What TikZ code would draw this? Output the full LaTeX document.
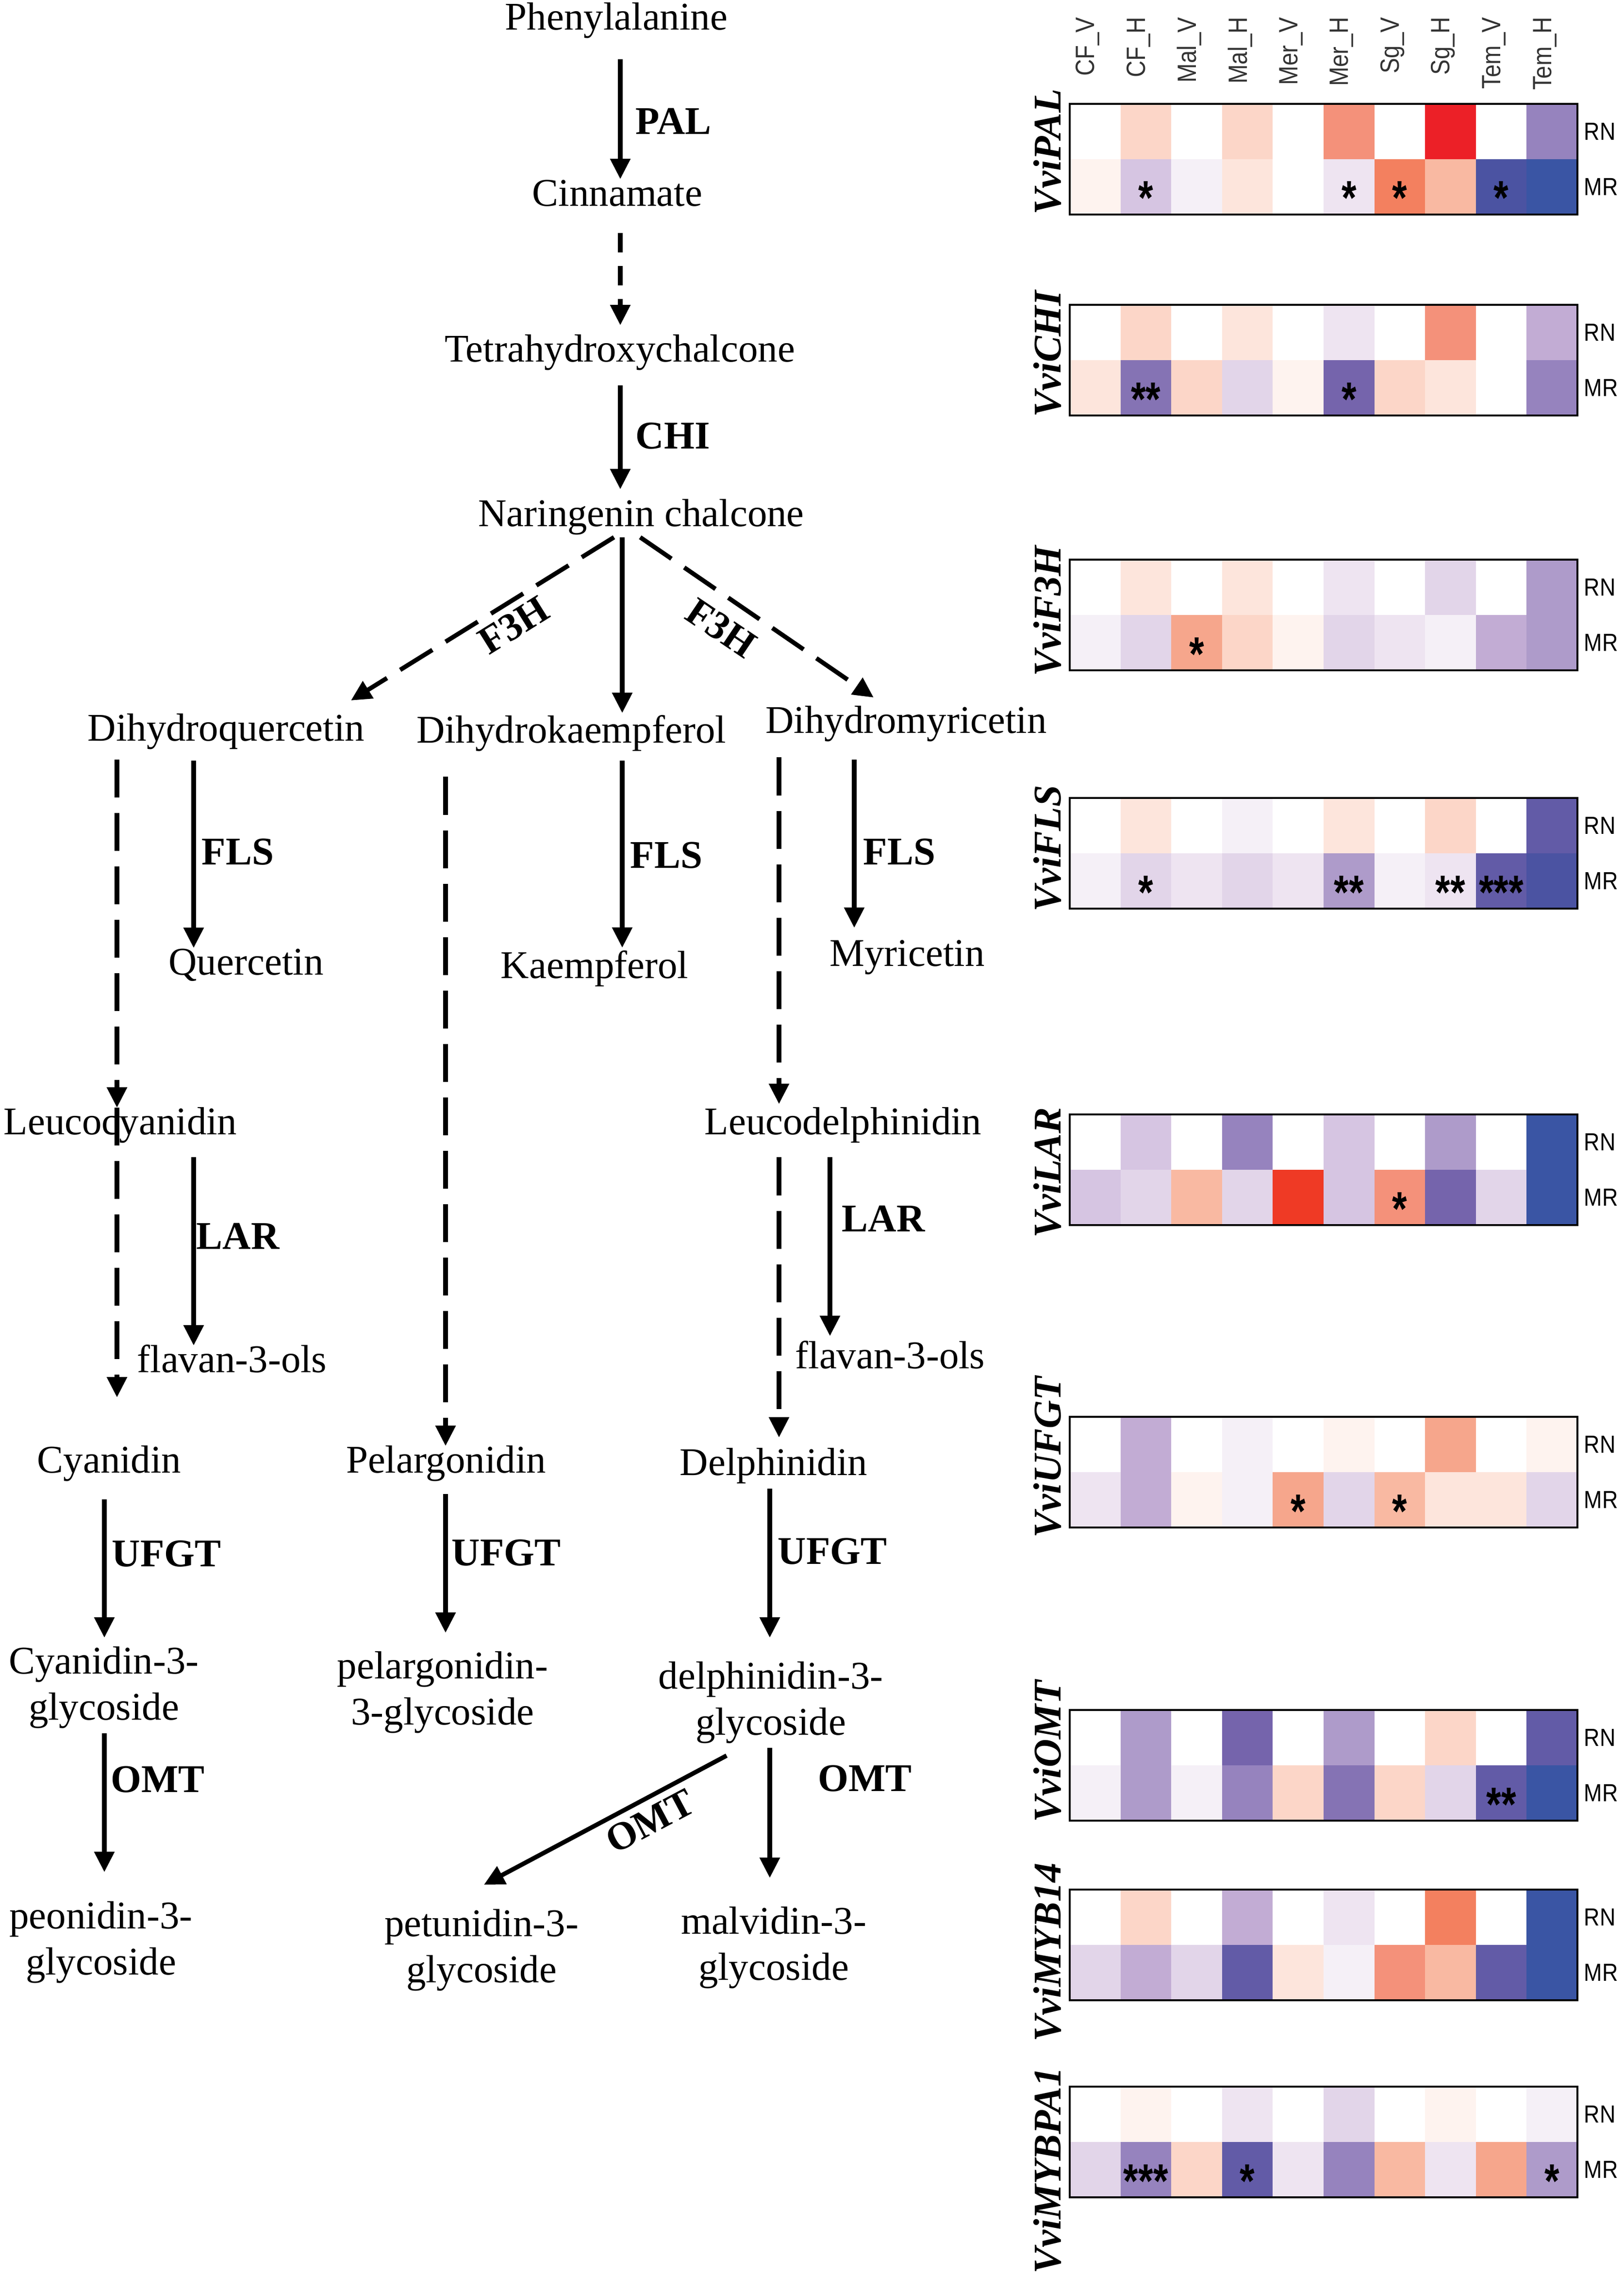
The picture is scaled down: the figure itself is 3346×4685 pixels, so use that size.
\documentclass[tikz,border=0pt]{standalone}
\usepackage{fontspec}
\setmainfont{Liberation Serif}
\newfontfamily\hsans{Liberation Sans}
\usetikzlibrary{arrows.meta,calc}

% heatmap colours
\definecolor{hw}{HTML}{FFFFFF}
\definecolor{hr1}{HTML}{FEF3EF}
\definecolor{hr2}{HTML}{FDE5DC}
\definecolor{hr3}{HTML}{FCD6C8}
\definecolor{hr4}{HTML}{F9B9A2}
\definecolor{hr5}{HTML}{F6A68C}
\definecolor{hr6}{HTML}{F4917A}
\definecolor{hr7}{HTML}{F3805F}
\definecolor{hr8}{HTML}{EF3A25}
\definecolor{hr9}{HTML}{EC2027}
\definecolor{hb1}{HTML}{F5F0F7}
\definecolor{hb2}{HTML}{EEE4F1}
\definecolor{hb3}{HTML}{E2D5E9}
\definecolor{hb4}{HTML}{D6C5E2}
\definecolor{hb5}{HTML}{C2ACD4}
\definecolor{hb6}{HTML}{AE9BCA}
\definecolor{hb7}{HTML}{9683BE}
\definecolor{hb8}{HTML}{8573B4}
\definecolor{hb9}{HTML}{7564AC}
\definecolor{hb10}{HTML}{625BA7}
\definecolor{hb11}{HTML}{4B53A2}
\definecolor{hb12}{HTML}{3A55A4}

\newcommand\squeezetext[2]{\scalebox{#1}[1]{#2}}
% top y, RN colours, MR colours
\newcommand\heatrow[3]{%
  \foreach \hc [count=\i from 0] in {#2}
    \fill[fill=\hc] ({2204+\i*104.6},#1) rectangle ++(104.6,114);
  \foreach \hc [count=\i from 0] in {#3}
    \fill[fill=\hc] ({2204+\i*104.6},{#1+114}) rectangle ++(104.6,114);
  \draw[line width=1.3pt] (2204,#1) rectangle ++(1046,228);
}

\tikzset{
  cpd/.style={inner sep=0pt, font=\fontsize{23}{27}\selectfont, text height=15.6pt, text depth=5pt},
  cpd2/.style={inner sep=0pt, font=\fontsize{23}{27}\selectfont, align=center},
  enz/.style={inner sep=0pt, font=\fontsize{23}{27}\selectfont\bfseries},
  arr/.style={line width=2.6pt, -{Triangle[width=0.4cm,length=0.42cm]}},
  dsh/.style={arr, dash pattern=on 0.78cm off 0.32cm},
  gene/.style={rotate=90, inner sep=0pt, font=\fontsize{23}{27}\selectfont\bfseries\itshape},
  colhead/.style={rotate=90, anchor=east, inner sep=0pt, text=black!80, font=\hsans\fontsize{15.5}{16}\selectfont},
  rowlab/.style={anchor=west, inner sep=0pt, font=\hsans\fontsize{14.5}{15}\selectfont},
  sig/.style={anchor=base, inner sep=0pt, font=\hsans\bfseries\fontsize{28}{28}\selectfont}
}

\begin{document}
\begin{tikzpicture}[x=0.01cm,y=-0.01cm]
\useasboundingbox (0,0) rectangle (3346,4685);

% compounds
\node[cpd] (phe) at (1270,43) {Phenylalanine};
\node[cpd] (cin) at (1272,406) {Cinnamate};
\node[cpd] (tet) at (1277,727) {Tetrahydroxychalcone};
\node[cpd] (nar) at (1321,1066) {Naringenin chalcone};
\node[cpd] (dhq) at (466,1508) {Dihydroquercetin};
\node[cpd] (dhk) at (1177,1512) {Dihydrokaempferol};
\node[cpd] (dhm) at (1867,1492) {Dihydromyricetin};
\node[cpd] (que) at (507,1990) {Quercetin};
\node[cpd] (kae) at (1225,1997) {Kaempferol};
\node[cpd] (myr) at (1869,1972) {Myricetin};
\node[cpd] (leu) at (248,2319) {Leucocyanidin};
\node[cpd] (fla) at (478,2809) {flavan-3-ols};
\node[cpd] (led) at (1737,2319) {Leucodelphinidin};
\node[cpd] (flb) at (1834,2801) {flavan-3-ols};
\node[cpd] (cya) at (225,3016) {Cyanidin};
\node[cpd] (pel) at (919,3016) {Pelargonidin};
\node[cpd] (del) at (1594,3021) {Delphinidin};
\node[cpd2] (c3g) at (214,3477) {Cyanidin-3-\\glycoside};
\node[cpd2] (p3g) at (912,3487) {pelargonidin-\\3-glycoside};
\node[cpd2] (d3g) at (1588,3508) {delphinidin-3-\\glycoside};
\node[cpd2] (peo) at (208,4002) {peonidin-3-\\glycoside};
\node[cpd2] (pet) at (992,4018) {petunidin-3-\\glycoside};
\node[cpd2] (mal) at (1594,4013) {malvidin-3-\\glycoside};

% lanes
\coordinate (xT) at (1278,0);
\coordinate (xA) at (241,0);
\coordinate (xF1) at (399,0);
\coordinate (xB) at (918,0);
\coordinate (xF2) at (1282,0);
\coordinate (xC) at (1605,0);
\coordinate (xF3) at (1760,0);
\coordinate (xL3) at (1710,0);
\coordinate (xU1) at (215,0);
\coordinate (xU3) at (1586,0);

% arrows
\draw[arr, shorten <=0.42cm] (phe.south -| xT) -- (cin.north -| xT);
\draw[dsh, dash pattern=on 0.4cm off 0.28cm, shorten <=0.37cm, shorten >=0.2cm] (cin.south -| xT) -- (tet.north -| xT);
\draw[arr, shorten <=0.3cm, shorten >=0.21cm] (tet.south -| xT) -- (nar.north -| xT);
\draw[dsh] ($(nar.south)+(-56,4)$) -- ($(dhq.north)+(257,-28)$);
\draw[arr, shorten <=0.04cm, shorten >=0.06cm] (nar.south -| xF2) -- (dhk.north -| xF2);
\draw[dsh] ($(nar.south)+(-2,4)$) -- ($(dhm.north)+(-67,-18)$);
\draw[dsh, shorten <=0.2cm] (dhq.south -| xA) -- (leu.north -| xA);
\draw[dsh, shorten >=1cm] (leu.north -| xA) -- (cya.north -| xA);
\draw[arr, shorten <=0.225cm] (dhq.south -| xF1) -- (que.north -| xF1);
\draw[dsh, shorten <=0.515cm] (dhk.south -| xB) -- (pel.north -| xB);
\draw[arr, shorten <=0.185cm, shorten >=0.075cm] (dhk.south -| xF2) -- (kae.north -| xF2);
\draw[dsh, shorten <=0.315cm, shorten >=0.075cm] (dhm.south -| xC) -- (led.north -| xC);
\draw[arr, shorten <=0.365cm, shorten >=0.235cm] (dhm.south -| xF3) -- (myr.north -| xF3);
\draw[arr, shorten <=0.285cm] (leu.south -| xF1) -- (fla.north -| xF1);
\draw[dsh, shorten <=0.285cm, shorten >=0.225cm] (led.south -| xC) -- (del.north -| xC);
\draw[arr, shorten <=0.285cm, shorten >=0.115cm] (led.south -| xL3) -- (flb.north -| xL3);
\draw[arr, shorten <=0.365cm, shorten >=0.18cm] (cya.south -| xU1) -- (c3g.north -| xU1);
\draw[arr, shorten <=0.255cm, shorten >=0.38cm] (pel.south -| xB) -- (p3g.north -| xB);
\draw[arr, shorten <=0.095cm, shorten >=0.49cm] (del.south -| xU3) -- (d3g.north -| xU3);
\draw[arr, shorten <=0.09cm, shorten >=0.6cm] (c3g.south -| xU1) -- (peo.north -| xU1);
\draw[arr] ($(d3g.south)+(-91,24)$) -- ($(pet.north)+(5,-50)$);
\draw[arr, shorten <=0.08cm, shorten >=0.59cm] (d3g.south -| xU3) -- (mal.north -| xU3);

% enzymes
\node[enz, anchor=west] (ePAL) at (1309,250) {PAL};
\node[enz, anchor=west] (eCHI) at (1309,898) {CHI};
\node[enz, rotate=32] (eF3Ha) at (1058,1288) {F3H};
\node[enz, rotate=-34] (eF3Hb) at (1486,1294) {F3H};
\node[enz, anchor=west] (eFLSa) at (415,1755) {FLS};
\node[enz, anchor=west] (eFLSb) at (1298,1762) {FLS};
\node[enz, anchor=west] (eFLSc) at (1778,1755) {FLS};
\node[enz, anchor=west] (eLARa) at (404,2547) {LAR};
\node[enz, anchor=west] (eLARb) at (1734,2511) {LAR};
\node[enz, anchor=west] (eUFa) at (230,3201) {UFGT};
\node[enz, anchor=west] (eUFb) at (930,3199) {UFGT};
\node[enz, anchor=west] (eUFc) at (1602,3196) {UFGT};
\node[enz, anchor=west] (eOMTa) at (228,3666) {OMT};
\node[enz, rotate=28] (eOMTb) at (1339,3752) {OMT};
\node[enz] (eOMTc) at (1782,3664) {OMT};

% heatmaps
\foreach \h [count=\i from 0] in {CF\_V,CF\_H,Mal\_V,Mal\_H,Mer\_V,Mer\_H,Sg\_V,Sg\_H,Tem\_V,Tem\_H}
  \node[colhead] (hd\i) at ({2204+(\i+0.5)*104.6-15},35) {\squeezetext{0.87}{\h}};
\heatrow{214}{hw,hr3,hw,hr3,hw,hr6,hw,hr9,hw,hb7}{hr1,hb4,hb1,hr2,hw,hb2,hr7,hr4,hb11,hb12}
\heatrow{628}{hw,hr3,hw,hr2,hw,hb2,hw,hr6,hw,hb5}{hr2,hb8,hr3,hb3,hr1,hb9,hr3,hr2,hw,hb7}
\heatrow{1153}{hw,hr2,hw,hr2,hw,hb2,hw,hb3,hw,hb6}{hb1,hb3,hr5,hr3,hr1,hb3,hb2,hb1,hb5,hb6}
\heatrow{1644}{hw,hr2,hw,hb1,hw,hr2,hw,hr3,hw,hb10}{hb1,hb3,hb2,hb3,hb2,hb6,hb1,hb2,hb10,hb11}
\heatrow{2296}{hw,hb4,hw,hb7,hw,hb4,hw,hb6,hw,hb12}{hb4,hb3,hr4,hb3,hr8,hb4,hr6,hb9,hb3,hb12}
\heatrow{2919}{hw,hb5,hw,hb1,hw,hr1,hw,hr5,hw,hr1}{hb2,hb5,hr1,hb1,hr5,hb3,hr4,hr2,hr2,hb3}
\heatrow{3523}{hw,hb6,hw,hb9,hw,hb6,hw,hr3,hw,hb10}{hb1,hb6,hb1,hb7,hr3,hb8,hr3,hb3,hb10,hb12}
\heatrow{3893}{hw,hr3,hw,hb5,hw,hb2,hw,hr7,hw,hb12}{hb3,hb5,hb3,hb10,hr2,hb1,hr6,hr4,hb10,hb12}
\heatrow{4299}{hw,hr1,hw,hb2,hw,hb3,hw,hr1,hw,hb1}{hb3,hb7,hr3,hb10,hb2,hb7,hr4,hb2,hr5,hb6}

\foreach \g/\cy in {PAL/313,CHI/729,F3H/1259,FLS/1748,LAR/2416,UFGT/3002,OMT/3608,MYB14/4022,MYBPA1/4472}
  \node[gene] (g\g) at (2158,\cy) {Vvi\g};
\foreach \t in {214,628,1153,1644,2296,2919,3523,3893,4299} {
  \node[rowlab] (rn\t) at (3263,\t+57) {\squeezetext{0.88}{RN}};
  \node[rowlab] (mr\t) at (3263,\t+171) {\squeezetext{0.88}{MR}};
}
% significance
\foreach \t/\i/\s [count=\k] in {214/1/*,214/5/*,214/6/*,214/8/*,628/1/**,628/5/*,1153/2/*,1644/1/*,1644/5/**,1644/7/**,1644/8/***,2296/6/*,2919/4/*,2919/6/*,3523/8/**,4299/1/***,4299/3/*,4299/9/*}
  \node[sig] (st\k) at ({2204+(\i+0.5)*104.6},{\t+171+57}) {\squeezetext{0.8}{\s}};
\end{tikzpicture}
\end{document}
